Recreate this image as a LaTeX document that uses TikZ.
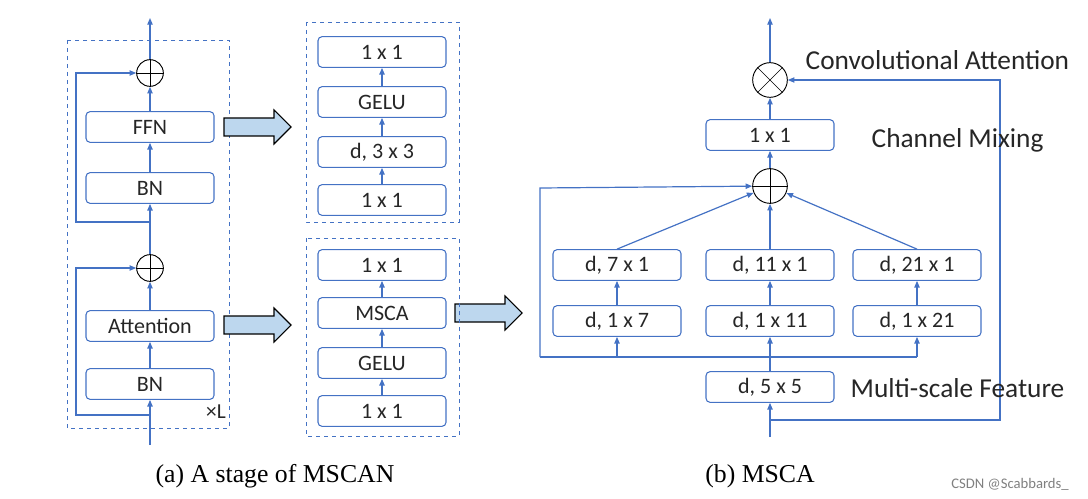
\documentclass[tikz,border=0pt]{standalone}
\usepackage{fontspec}
\newfontfamily\carl{Carlito}
\newfontfamily\tms{Liberation Serif}
\usetikzlibrary{arrows.meta}
\definecolor{bl}{HTML}{4472C4}
\definecolor{fillb}{HTML}{BDD7EE}
\definecolor{tx}{HTML}{262626}
\begin{document}
\begin{tikzpicture}[x=0.75pt,y=-0.75pt,
 box/.style={draw=bl,rounded corners=3pt,line width=0.8pt,minimum width=96pt,minimum height=23pt,font=\carl\fontsize{16.5}{16.5}\selectfont,text=tx,inner sep=0pt},
 ar/.style={draw=bl,line width=0.9pt,-{Triangle[length=5pt,width=4pt]}},
 ln/.style={draw=bl,line width=0.9pt},
 dbox/.style={draw=bl,dashed,line width=0.7pt},
 sum/.style={draw=black,circle,minimum size=20pt,inner sep=0pt,line width=0.7pt},
 barrow/.style={draw=black,fill=fillb,line width=0.8pt},
 lab/.style={font=\carl\fontsize{20.5}{20.5}\selectfont,text=tx,anchor=west}]
\useasboundingbox (0,0) rectangle (1088,499);
% left stage
\draw[dbox] (67,40) rectangle (229,428);
\node[box] (ffn) at (150,127) {FFN};
\node[box] (bn1) at (150,188) {BN};
\node[box] (att) at (150,326) {Attention};
\node[box] (bn2) at (150,384) {BN};
\node[sum] (s1) at (150,73) {};
\draw (s1.north)--(s1.south) (s1.west)--(s1.east);
\node[sum] (s2) at (150,268) {};
\draw (s2.north)--(s2.south) (s2.west)--(s2.east);
\coordinate (in) at (150,445);
\coordinate (out) at (150,18);
\coordinate (k1) at (150,415);
\coordinate (k2) at (150,222);
\draw[ar] (in)--(bn2);
\draw[ar] (bn2)--(att);
\draw[ar] (att)--(s2);
\draw[ar] (s2)--(bn1);
\draw[ar] (bn1)--(ffn);
\draw[ar] (ffn)--(s1);
\draw[ar] (s1)--(out);
\draw[ar] (k1)--(76,415)--(76,268)--(s2);
\draw[ar] (k2)--(76,222)--(76,73)--(s1);
\node[font=\carl\fontsize{16}{16}\selectfont,text=tx] (xl) at (216,412) {×L};
% block arrows
\foreach \x/\y in {224/127,224/325,455/313}{
 \draw[barrow] (\x,\y-9)--(\x+50,\y-9)--(\x+50,\y-17)--(\x+67,\y)--(\x+50,\y+17)--(\x+50,\y+9)--(\x,\y+9)--cycle;}
% FFN detail
\draw[dbox] (306,22) rectangle (459,222);
\node[box] (f1) at (382,52) {1 x 1};
\node[box] (f2) at (382,102) {GELU};
\node[box] (f3) at (382,152) {d, 3 x 3};
\node[box] (f4) at (382,200) {1 x 1};
\draw[ar] (f4)--(f3); \draw[ar] (f3)--(f2); \draw[ar] (f2)--(f1);
% attention detail
\draw[dbox] (306,238) rectangle (459,436);
\node[box] (a1) at (382,265) {1 x 1};
\node[box] (a2) at (382,313) {MSCA};
\node[box] (a3) at (382,363) {GELU};
\node[box] (a4) at (382,411) {1 x 1};
\draw[ar] (a4)--(a3); \draw[ar] (a3)--(a2); \draw[ar] (a2)--(a1);
% MSCA
\node[sum,minimum size=26pt] (m) at (770,80) {};
\draw (m.north east)--(m.south west) (m.north west)--(m.south east);
\node[box] (c1) at (770,135) {1 x 1};
\node[sum,minimum size=26pt] (p) at (770,186) {};
\draw (p.north)--(p.south) (p.west)--(p.east);
\node[box] (r11) at (617,265) {d, 7 x 1};
\node[box] (r12) at (770,265) {d, 11 x 1};
\node[box] (r13) at (917,265) {d, 21 x 1};
\node[box] (r21) at (617,321) {d, 1 x 7};
\node[box] (r22) at (770,321) {d, 1 x 11};
\node[box] (r23) at (917,321) {d, 1 x 21};
\node[box] (d5) at (770,387) {d, 5 x 5};
\coordinate (min) at (770,437);
\coordinate (mout) at (770,18);
\coordinate (j) at (770,357);
\coordinate (fb) at (770,420);
\draw[ar] (min)--(d5);
\draw[ln] (d5)--(j);
\draw[ln] (540,357)--(917,357);
\draw[ar] (617,357)--(r21); \draw[ar] (j)--(r22); \draw[ar] (917,357)--(r23);
\draw[ar] (540,357)--(540,188)--(p);
\draw[ar] (r21)--(r11); \draw[ar] (r22)--(r12); \draw[ar] (r23)--(r13);
\draw[ar] (r11.north)--(p); \draw[ar] (r12)--(p); \draw[ar] (r13.north)--(p);
\draw[ar] (p)--(c1); \draw[ar] (c1)--(m); \draw[ar] (m)--(mout);
\draw[ar] (fb)--(1000,420)--(1000,80)--(m);
\node[lab] (t1) at (801,60) {Convolutional Attention};
\node[lab] (t2) at (867,140) {Channel Mixing};
\node[lab] (t3) at (846,388) {Multi-scale Feature};
\node[font=\tms\fontsize{19.3}{19.3}\selectfont] (cap1) at (275,476) {(a) A stage of MSCAN};
\node[font=\tms\fontsize{19.3}{19.3}\selectfont] (cap2) at (760,476) {(b) MSCA};
\node[font=\carl\fontsize{11}{11}\selectfont,text=gray] (wm) at (1010,484) {CSDN @Scabbards\_};
\end{tikzpicture}
\end{document}
